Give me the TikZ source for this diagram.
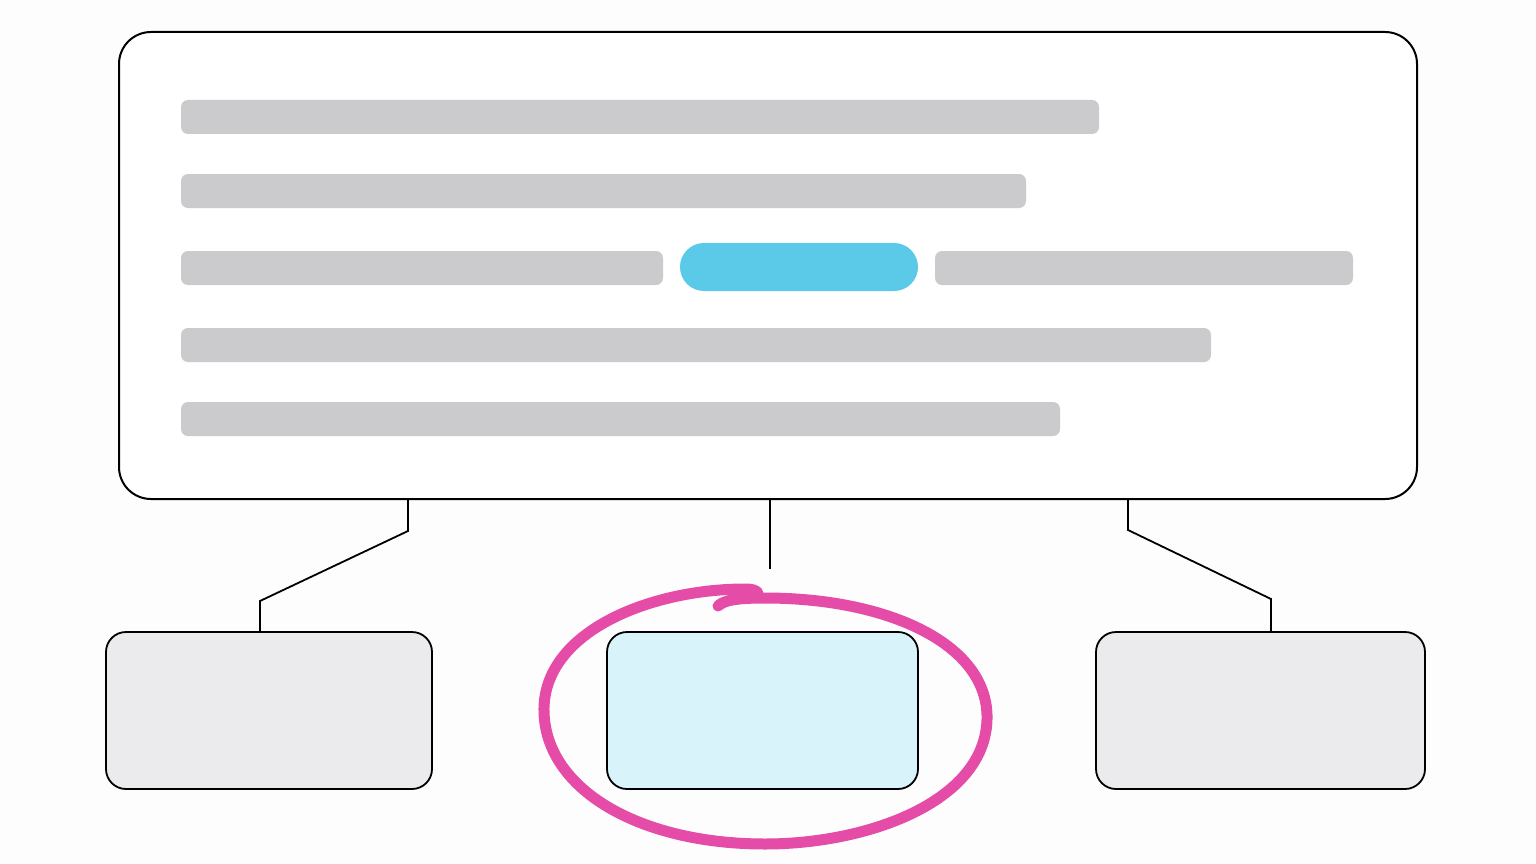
\documentclass[tikz,border=0pt]{standalone}
\begin{document}
\begin{tikzpicture}[x=1pt,y=-1pt,
  bar/.style={fill=barGray,draw=none,rounded corners=7pt,minimum height=34pt,inner sep=0pt},
  subbox/.style={draw=black,line width=1.8pt,rounded corners=20pt,minimum height=157pt,inner sep=0pt},
  conn/.style={draw=black,line width=1.8pt,line join=miter}]
\definecolor{barGray}{HTML}{CBCBCE}
\definecolor{hiBlue}{HTML}{5BC9E8}
\definecolor{lightBlue}{HTML}{D8F4FA}
\definecolor{lightGray}{HTML}{EBEBED}
\definecolor{magentaInk}{HTML}{E44CA7}
\definecolor{bgColor}{HTML}{FDFDFD}
\fill[bgColor] (0,0) rectangle (1536,864);
\useasboundingbox (0,0) rectangle (1536,864);
% main box
\node[draw=black,fill=white,line width=2pt,rounded corners=32pt,minimum width=1298pt,minimum height=467pt,inner sep=0pt] (main) at (768,265.5) {};
% text bars
\node[bar,minimum width=918pt] (r1) at (640,117) {};
\node[bar,minimum width=845pt] (r2) at (603.5,191) {};
\node[bar,minimum width=482pt] (r3a) at (422,268) {};
\node[fill=hiBlue,rounded corners=24pt,minimum width=238pt,minimum height=48pt,inner sep=0pt] (hl) at (799,267) {};
\node[bar,minimum width=418pt] (r3b) at (1144,268) {};
\node[bar,minimum width=1030pt] (r4) at (696,345) {};
\node[bar,minimum width=879pt] (r5) at (620.5,419) {};
% bottom boxes
\node[subbox,fill=lightGray,minimum width=326pt] (bl) at (269,710.5) {};
\node[subbox,fill=lightBlue,minimum width=311pt] (bm) at (762.5,710.5) {};
\node[subbox,fill=lightGray,minimum width=329pt] (br) at (1260.5,710.5) {};
% connectors
\coordinate (tapL) at (408,499);
\coordinate (bendL1) at (408,531);
\coordinate (bendL2) at (260,601);
\coordinate (tapM) at (770,499);
\coordinate (endM) at (770,569);
\coordinate (tapR) at (1128,499);
\coordinate (bendR1) at (1128,530);
\coordinate (bendR2) at (1271,599);
\draw[conn] (tapL) -- (bendL1) -- (bendL2) -- (bendL2 |- bl.north);
\draw[conn] (tapM) -- (endM);
\draw[conn] (tapR) -- (bendR1) -- (bendR2) -- (bendR2 |- br.north);
% hand-drawn circle
\draw[magentaInk,line width=11pt,line cap=round,line join=round]
  (718,606) .. controls (724,600) and (738,598) .. (765,598)
  .. controls (885,598) and (985,642) .. (987,715)
  .. controls (989,800) and (870,844) .. (765,844)
  .. controls (640,844) and (546,790) .. (544,712)
  .. controls (542,632) and (650,589) .. (745,589)
  .. controls (752,589) and (756,590) .. (758,593);
\end{tikzpicture}
\end{document}
